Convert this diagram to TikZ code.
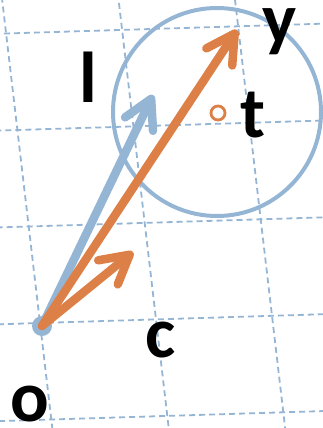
\documentclass[tikz,border=0pt]{standalone}
\usepackage{fontspec}
\setmainfont{Carlito}
\usetikzlibrary{arrows.meta}
\definecolor{lblue}{RGB}{149,181,213}
\definecolor{orng}{RGB}{221,128,71}
\tikzset{
  gridline/.style={draw=lblue, line width=1.8pt, dash pattern=on 6pt off 4pt},
  vecarrow/.style={line width=8.5pt, line cap=round, line join=round,
    -{Straight Barb[round, length=28pt, width=31pt]}},
  lbl/.style={anchor=base, inner sep=0pt, font=\fontsize{72}{72}\selectfont\bfseries}
}
\begin{document}
\begin{tikzpicture}[x=1pt, y=-1pt]
\useasboundingbox (0,0) rectangle (323,428);
% skewed dashed grid
\begin{scope}
\clip (0,0) rectangle (323,428);
\begin{scope}[shift={(40pt,-323pt)}, x={(116pt,3.6pt)}, y={(11.3pt,-96.5pt)}]
\foreach \j in {-3,...,1} \draw[gridline] (-2,\j) -- (3,\j);
\foreach \i in {-1,...,3} \draw[gridline] (\i,-4) -- (\i,2);
\end{scope}
\end{scope}
% big circle and centre
\node[draw=lblue, line width=4pt, circle, minimum size=208pt, inner sep=0pt] (ball) at (217,112) {};
\node[draw=orng, line width=2.8pt, circle, minimum size=14pt, inner sep=0pt] (t) at (218,113) {};
% origin dot
\node[fill=lblue, circle, minimum size=20pt, inner sep=0pt] (o) at (42,326) {};
\coordinate (ltip) at (153,95);
\coordinate (ytip) at (237,30);
\coordinate (ctip) at (133,252);
\draw[vecarrow, lblue] (o.center) -- (ltip);
\draw[vecarrow, orng] (o.center) -- (ytip);
\draw[vecarrow, orng] (o.center) -- (ctip);
% labels
\node[lbl] (ly) at (280,44) {y};
\node[lbl] (ll) at (88.5,102) {l};
\node[lbl] (lt) at (253,137) {t};
\node[lbl] (lc) at (161,357) {c};
\node[lbl] (lo) at (30,421) {o};
\end{tikzpicture}
\end{document}
